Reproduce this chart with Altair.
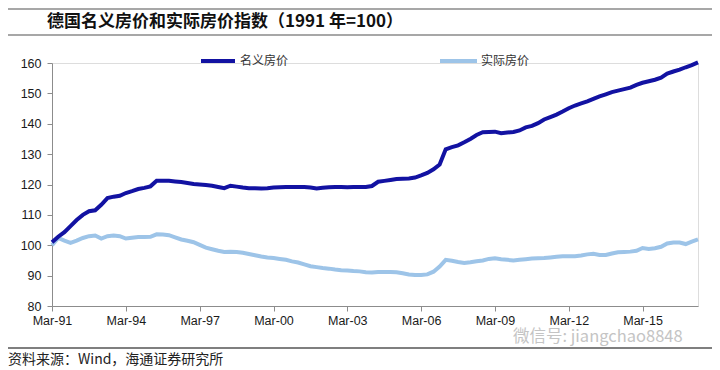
import json
import altair as alt
import pandas as pd

# ---------------- data ----------------
title_text = "德国名义房价和实际房价指数（1991 年=100）"
source_text = "资料来源：Wind，海通证券研究所"
watermark_text = "微信号: jiangchao8848"
series_names = ["名义房价", "实际房价"]

dates = [d.strftime("%Y-%m-%d") for d in pd.date_range("1991-03-01", periods=106, freq="3MS")]

nominal = [101, 102.8, 104.3, 106.3, 108.3, 110, 111.2, 111.5, 113.3, 115.5,
           116, 116.3, 117.2, 117.8, 118.5, 118.9, 119.4, 121.2, 121.2, 121.2,
           121, 120.8, 120.5, 120.2, 120, 119.8, 119.6, 119.2, 118.8, 119.6,
           119.3, 119, 118.8, 118.8, 118.7, 118.8, 119, 119.1, 119.2, 119.2,
           119.2, 119.2, 119, 118.7, 118.9, 119.1, 119.2, 119.2, 119.1, 119.2,
           119.2, 119.2, 119.5, 120.9, 121.2, 121.5, 121.8, 121.9, 122, 122.3,
           123, 123.8, 125, 126.6, 131.6, 132.3, 132.9, 133.9, 135, 136.3,
           137.2, 137.3, 137.4, 136.9, 137.1, 137.3, 137.8, 138.8, 139.3, 140.2,
           141.4, 142.2, 143, 144, 145.1, 146, 146.7, 147.4, 148.2, 149,
           149.7, 150.4, 150.9, 151.4, 151.9, 152.8, 153.5, 154, 154.5, 155.2,
           156.5, 157.2, 157.8, 158.6, 159.3, 160.2]

real = [100, 102.4, 101.5, 100.8, 101.5, 102.4, 103, 103.2, 102.2, 103,
        103.2, 103, 102.2, 102.5, 102.7, 102.7, 102.8, 103.6, 103.5, 103.3,
        102.6, 101.9, 101.5, 101, 100.1, 99.2, 98.7, 98.2, 97.8, 97.9,
        97.8, 97.5, 97.1, 96.7, 96.3, 96, 95.8, 95.5, 95.2, 94.7,
        94.3, 93.7, 93.1, 92.8, 92.5, 92.3, 92, 91.8, 91.7, 91.5,
        91.4, 91.1, 91, 91.2, 91.2, 91.2, 91.1, 90.8, 90.4, 90.2,
        90.2, 90.4, 91.3, 93, 95.2, 94.9, 94.5, 94.2, 94.4, 94.7,
        95, 95.5, 95.7, 95.4, 95.2, 95, 95.2, 95.4, 95.6, 95.7,
        95.8, 96, 96.2, 96.4, 96.4, 96.4, 96.6, 97, 97.2, 96.8,
        96.8, 97.3, 97.7, 97.8, 97.9, 98.2, 99.1, 98.8, 99, 99.5,
        100.6, 100.9, 100.9, 100.4, 101.2, 101.9]

tick_dates = ["1991-03-01", "1994-03-01", "1997-03-01", "2000-03-01", "2003-03-01",
              "2006-03-01", "2009-03-01", "2012-03-01", "2015-03-01"]
tick_labels = ["Mar-91", "Mar-94", "Mar-97", "Mar-00", "Mar-03",
               "Mar-06", "Mar-09", "Mar-12", "Mar-15"]
y_ticks = [80, 90, 100, 110, 120, 130, 140, 150, 160]

# ---------------- build ----------------
def ms(s):
    return int(pd.Timestamp(s, tz="UTC").timestamp() * 1000)

df = pd.DataFrame({"date": dates, "nominal": nominal, "real": real})

NOM_COLOR = "#1212a2"
REAL_COLOR = "#9dc4e8"
AXIS_COLOR = "#8c8c8c"
CJK = "Noto Sans CJK SC"

x_enc = alt.X(
    "date:T",
    scale=alt.Scale(type="utc", domain=[ms(dates[0]), ms(dates[-1])], nice=False),
    axis=alt.Axis(
        values=[ms(d) for d in tick_dates],
        labelExpr=json.dumps(tick_labels) + "[round((utcyear(datum.value)-1991)/3)]",
        grid=False, title=None, domainColor=AXIS_COLOR, tickColor=AXIS_COLOR,
        tickSize=5, labelPadding=3, labelFont="Liberation Sans", labelFontSize=12.5,
        labelColor="#1a1a1a", labelFlush=False,
    ),
)
y_scale = alt.Scale(domain=[80, 160], nice=False, zero=False)
y_axis = alt.Axis(values=y_ticks, grid=False, title=None, domainColor=AXIS_COLOR,
                  tickColor=AXIS_COLOR, tickSize=5, labelPadding=6,
                  labelFont="Liberation Sans", labelFontSize=12.5, labelColor="#1a1a1a")

real_line = alt.Chart(df).mark_line(color=REAL_COLOR, strokeWidth=4).encode(
    x=x_enc, y=alt.Y("real:Q", scale=y_scale, axis=y_axis))
nom_line = alt.Chart(df).mark_line(color=NOM_COLOR, strokeWidth=4).encode(
    x=x_enc, y=alt.Y("nominal:Q", scale=y_scale, axis=y_axis))

one = pd.DataFrame({"k": [0]})

def rule(x1, x2, y, color, width):
    return alt.Chart(one).mark_rule(color=color, strokeWidth=width).encode(
        x=alt.value(x1), x2=alt.value(x2), y=alt.value(y))

def text(s, x, y, size, color, weight="normal", font=CJK):
    return alt.Chart(pd.DataFrame({"t": [s]})).mark_text(
        align="left", baseline="middle", font=font, fontSize=size,
        fontWeight=weight, color=color).encode(
        x=alt.value(x), y=alt.value(y), text="t:N")

layers = [
    rule(-44, 660, -54, "#8a8a8a", 1.5),
    text(title_text, -5, -41, 17, "#111111", "bold"),
    rule(-44, 660, -28, "#8a8a8a", 1.5),
    rule(149, 183, -2, NOM_COLOR, 4),
    text(series_names[0], 188, -2, 12, "#333333"),
    rule(388, 425, -2, REAL_COLOR, 4),
    text(series_names[1], 429, -2, 12, "#333333"),
    text(watermark_text, 461, 274, 16.5, "#c4c4c4"),
    rule(-44, 660, 285, "#555555", 1.5),
    text(source_text, -44, 297, 14, "#222222"),
    real_line,
    nom_line,
]

chart = alt.layer(*layers).properties(
    width=646, height=243,
    padding={"left": 44, "top": 55, "right": 14, "bottom": 62},
    autosize=alt.AutoSizeParams(type="none"),
).configure_view(stroke=None).configure(background="white")

chart.save("out.html", embed_options={"renderer": "svg", "actions": False})
